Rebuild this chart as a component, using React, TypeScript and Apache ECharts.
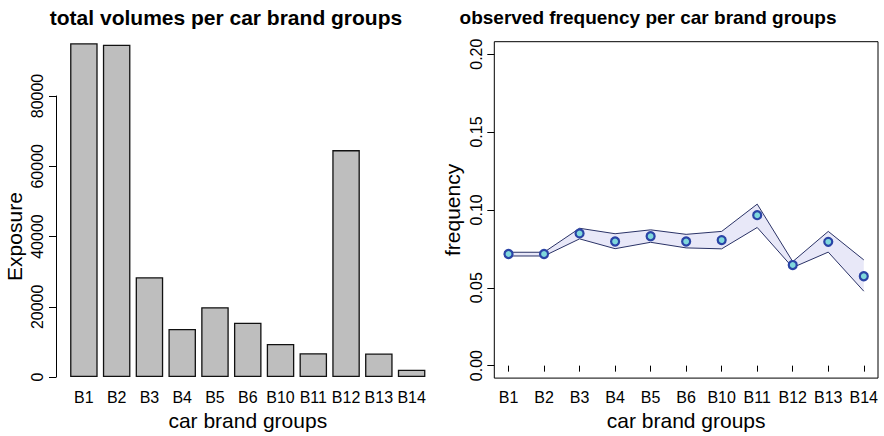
import React, { useEffect, useRef } from "react";
import * as echarts from "echarts";

// Car brand groups shared by both panels
const brands = ["B1", "B2", "B3", "B4", "B5", "B6", "B10", "B11", "B12", "B13", "B14"];

// Total exposure per brand group
const exposure = [95000, 94600, 28400, 13700, 19900, 15500, 9400, 6800, 64600, 6700, 2100];

// Observed claim frequency per brand group with its confidence band
const frequency = [0.0717, 0.0717, 0.0849, 0.0797, 0.0831, 0.0797, 0.0806, 0.0966, 0.0646, 0.0795, 0.0574];
const freqUpper = [0.0728, 0.0728, 0.0882, 0.0847, 0.0872, 0.0843, 0.0862, 0.1037, 0.0668, 0.0862, 0.0679];
const freqLower = [0.0704, 0.0704, 0.0814, 0.0751, 0.0792, 0.0756, 0.0750, 0.0887, 0.0630, 0.0729, 0.0478];

// Tick values
const exposureTicks = [0, 20000, 40000, 60000, 80000];
const frequencyTicks = [0, 0.05, 0.1, 0.15, 0.2];

const FONT = "'Liberation Sans', Arial, Helvetica, sans-serif";

export default function App() {
  const ref = useRef<HTMLDivElement>(null);

  useEffect(() => {
    if (!ref.current) return;
    const chart = echarts.init(ref.current, null, { renderer: "svg" });
    const xIdx = brands.map((_, i) => i + 1);

    const nameStyle = { fontSize: 21, color: "#000", fontFamily: FONT };

    chart.setOption({
      animation: false,
      backgroundColor: "#ffffff",
      textStyle: { fontFamily: FONT, color: "#000" },
      title: [
        {
          text: "total volumes per car brand groups",
          left: 221,
          top: 2,
          textAlign: "center",
          textStyle: { fontFamily: FONT, fontSize: 21, fontWeight: "bold", color: "#000" },
        },
        {
          text: "observed frequency per car brand groups",
          left: 643,
          top: 3,
          textAlign: "center",
          textStyle: { fontFamily: FONT, fontSize: 19, fontWeight: "bold", color: "#000" },
        },
      ],
      grid: [
        { left: 67.5, top: 96, width: 360.5, height: 288.3, containLabel: false },
        {
          left: 494.3,
          top: 41.7,
          width: 383.7,
          height: 343.3,
          show: true,
          borderColor: "#000",
          borderWidth: 1,
          backgroundColor: "transparent",
          containLabel: false,
        },
      ],
      xAxis: [
        {
          type: "category",
          gridIndex: 0,
          data: brands,
          boundaryGap: true,
          axisLine: { show: false },
          axisTick: { show: false },
          axisLabel: { color: "#000", fontSize: 16, margin: 12, interval: 0, fontFamily: FONT },
          name: "car brand groups",
          nameLocation: "middle",
          nameGap: 25,
          nameTextStyle: nameStyle,
        },
        {
          type: "value",
          gridIndex: 1,
          min: 0.6,
          max: 11.4,
          splitLine: { show: false },
          axisLine: { show: false },
          axisTick: { show: true, length: 6, customValues: xIdx, lineStyle: { color: "#000" } },
          axisLabel: {
            color: "#000",
            fontSize: 16,
            margin: 11,
            customValues: xIdx,
            fontFamily: FONT,
            formatter: (v: number) => brands[Math.round(v) - 1] ?? "",
          },
          name: "car brand groups",
          nameLocation: "middle",
          nameGap: 25,
          nameTextStyle: nameStyle,
        },
      ],
      yAxis: [
        {
          type: "value",
          gridIndex: 0,
          min: 0,
          max: 80000,
          interval: 20000,
          offset: 11.5,
          splitLine: { show: false },
          axisLine: { show: true, lineStyle: { color: "#000" } },
          axisTick: { show: true, length: 7, customValues: exposureTicks, lineStyle: { color: "#000" } },
          axisLabel: {
            color: "#000",
            fontSize: 16,
            rotate: 90,
            margin: 11,
            customValues: exposureTicks,
            fontFamily: FONT,
            formatter: (v: number) => String(Math.round(v)),
          },
          name: "Exposure",
          nameLocation: "middle",
          nameRotate: 90,
          nameGap: 31,
          nameTextStyle: nameStyle,
        },
        {
          type: "value",
          gridIndex: 1,
          min: -0.008,
          max: 0.208,
          splitLine: { show: false },
          axisLine: { show: false },
          axisTick: { show: true, length: 7, customValues: frequencyTicks, lineStyle: { color: "#000" } },
          axisLabel: {
            color: "#000",
            fontSize: 16,
            rotate: 90,
            margin: 10,
            customValues: frequencyTicks,
            fontFamily: FONT,
            formatter: (v: number) => v.toFixed(2),
          },
          name: "frequency",
          nameLocation: "middle",
          nameRotate: 90,
          nameGap: 31,
          nameTextStyle: nameStyle,
        },
      ],
      series: [
        {
          type: "bar",
          xAxisIndex: 0,
          yAxisIndex: 0,
          data: exposure,
          barWidth: "84%",
          clip: false,
          itemStyle: { color: "#bebebe", borderColor: "#111", borderWidth: 1.3 },
        },
        {
          // shaded confidence band between lower and upper bounds
          type: "custom",
          xAxisIndex: 1,
          yAxisIndex: 1,
          clip: false,
          z: 1,
          data: xIdx.map((x, i) => [x, freqLower[i], freqUpper[i]]),
          encode: { x: 0, y: [1, 2] },
          renderItem: (params: any, api: any) => {
            if (params.dataIndex !== 0) return null;
            const top = xIdx.map((x, i) => api.coord([x, freqUpper[i]]));
            const bottom = xIdx.map((x, i) => api.coord([x, freqLower[i]])).reverse();
            return {
              type: "polygon",
              shape: { points: top.concat(bottom) },
              style: { fill: "#e8e8f8", stroke: "none" },
            };
          },
        },
        {
          type: "line",
          xAxisIndex: 1,
          yAxisIndex: 1,
          z: 2,
          symbol: "none",
          data: xIdx.map((x, i) => [x, freqUpper[i]]),
          lineStyle: { color: "#2a3266", width: 1 },
        },
        {
          type: "line",
          xAxisIndex: 1,
          yAxisIndex: 1,
          z: 2,
          symbol: "none",
          data: xIdx.map((x, i) => [x, freqLower[i]]),
          lineStyle: { color: "#2a3266", width: 1 },
        },
        {
          type: "scatter",
          xAxisIndex: 1,
          yAxisIndex: 1,
          z: 3,
          symbol: "circle",
          symbolSize: 8,
          data: xIdx.map((x, i) => [x, frequency[i]]),
          itemStyle: { color: "#7fd8dc", borderColor: "#2a44a6", borderWidth: 2.2, opacity: 1 },
        },
      ],
    });

    return () => chart.dispose();
  }, []);

  return (
    <div
      ref={ref}
      style={{ position: "fixed", left: 0, top: 0, width: 884, height: 436, background: "#fff" }}
    />
  );
}
